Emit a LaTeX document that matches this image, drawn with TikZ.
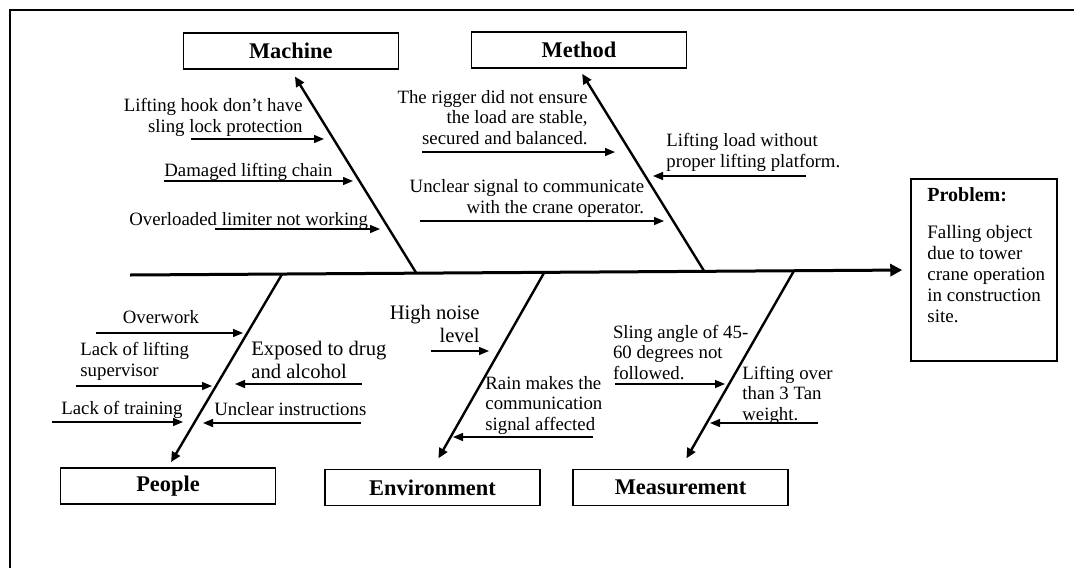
\documentclass[tikz,border=0pt]{standalone}
\usepackage{fontspec}
\setmainfont{Liberation Serif}
\usetikzlibrary{arrows.meta,calc}

\begin{document}
\begin{tikzpicture}[x=0.5pt,y=-0.5pt,
    head/.style={draw,line width=0.75pt,minimum width=107.5pt,minimum height=18pt,inner sep=0pt,font=\fontsize{11.2}{12}\selectfont\bfseries},
    spine/.style={line width=1.5pt,-{Triangle[length=6pt,width=6pt]}},
    bone/.style={line width=1.2pt,-{Triangle[length=5pt,width=4.5pt]}},
    cause/.style={line width=0.7pt,-{Triangle[length=5pt,width=4pt]}},
    txt/.style={inner sep=0pt,font=\fontsize{9.4}{10.25}\selectfont},
    bigtxt/.style={inner sep=0pt,font=\fontsize{10.3}{11.3}\selectfont}]
\useasboundingbox (0,0) rectangle (1074,568);
% frame
\draw[line width=1pt] (1074,10) -- (10,10) -- (10,568);

% category boxes
\node[head] (machine) at (290.75,51) {Machine};
\node[head] (method) at (579,50) {Method};
\node[head] (people) at (168,486) {People};
\node[head] (environment) at (432.5,487.5) {Environment};
\node[head] (measurement) at (680.5,487.5) {Measurement};

% problem box
\node[draw,line width=0.75pt,minimum width=73pt,minimum height=91pt,inner sep=0pt] (problem) at (984,270) {};
\node[txt,anchor=base west,font=\fontsize{10}{11}\selectfont\bfseries] (probtitle) at (927,201) {Problem:};
\node[txt,anchor=base west,align=left,font=\fontsize{9.5}{10.4}\selectfont] (probtext) at (927,322) {Falling object\\due to tower\\crane operation\\in construction\\site.};

% spine and bones
\coordinate (tail) at (130,275);
\draw[spine,shorten >=4pt] (tail) -- (problem.west);
\coordinate (mj) at ($(tail)!0.367!(problem.west)$);
\coordinate (dj) at ($(tail)!0.736!(problem.west)$);
\coordinate (pj) at ($(tail)!0.195!(problem.west)$);
\coordinate (ej) at ($(tail)!0.531!(problem.west)$);
\coordinate (sj) at ($(tail)!0.851!(problem.west)$);
\draw[bone,shorten >=4pt] (mj) -- (machine.south);
\draw[bone,shorten >=3pt] (dj) -- (method.south);
\draw[bone,shorten >=3pt] (pj) -- (people.north);
\draw[bone,shorten >=6pt] (ej) -- (environment.north);
\draw[bone,shorten >=6pt] (sj) -- (measurement.north);

% cause arrows
\foreach \n/\a/\b/\y in {m1/191/324/139, m2/164/353/181, m3/215/380/229,
    d1/422/615/152, d2/420/664/221, d3/806/653/176,
    p1/96/243/333, p2/76/212/386, p3/52/183/422, p4/362/235/384, p5/361/203/423,
    e1/431/489/351, e2/593/453/437,
    s1/615/725/384, s2/818/710/423}{
  \coordinate (\n-a) at (\a,\y);
  \coordinate (\n-b) at (\b,\y);
  \draw[cause] (\n-a) -- (\n-b);
}

% machine
\node[txt,anchor=base east,align=right] (hook) at (303,132) {Lifting hook don’t have\\sling lock protection};
\node[txt,anchor=base west] (chain) at (164,176) {Damaged lifting chain};
\node[txt,anchor=base west] (limiter) at (129,225) {Overloaded limiter not working};

% method
\node[txt,anchor=base east,align=right] (rigger) at (588,144) {The rigger did not ensure\\the load are stable,\\secured and balanced.};
\node[txt,anchor=base east,align=right] (signal) at (644.5,213) {Unclear signal to communicate\\with the crane operator.};
\node[txt,anchor=base west,align=left] (platform) at (666,167) {Lifting load without\\proper lifting platform.};

% people
\node[txt,anchor=base] (overwork) at (161,323) {Overwork};
\node[txt,anchor=base west,align=left] (supervisor) at (80,376) {Lack of lifting\\supervisor};
\node[txt,anchor=base west] (training) at (61,414) {Lack of training};
\node[bigtxt,anchor=base west,align=left] (drug) at (251,378) {Exposed to drug\\and alcohol};
\node[txt,anchor=base west] (instructions) at (214,415) {Unclear instructions};

% environment
\node[bigtxt,anchor=base east,align=right] (noise) at (480,342) {High noise\\level};
\node[txt,anchor=base west,align=left] (rain) at (485,430) {Rain makes the\\communication\\signal affected};

% measurement
\node[txt,anchor=base west,align=left] (sling) at (612.6,379) {Sling angle of 45-\\60 degrees not\\followed.};
\node[txt,anchor=base west,align=left] (overload) at (742,420) {Lifting over\\than 3 Tan\\weight.};
\end{tikzpicture}
\end{document}
